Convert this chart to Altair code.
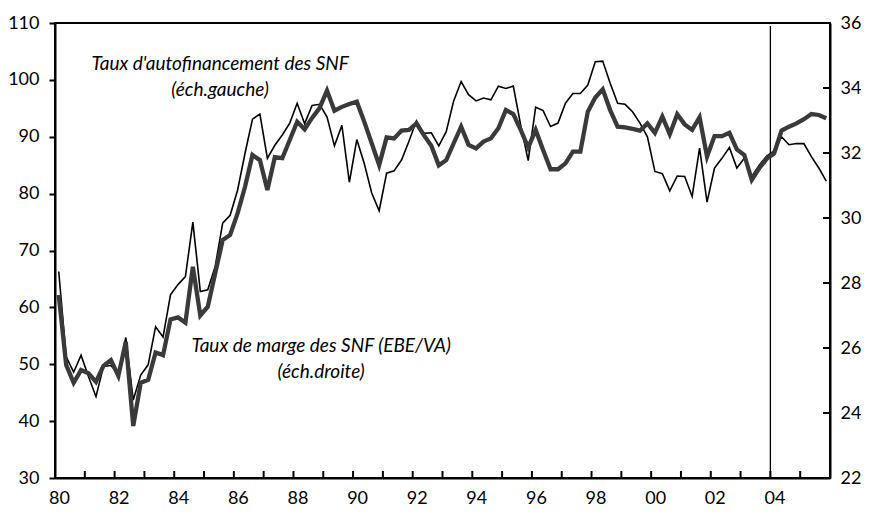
import altair as alt
import pandas as pd

# Quarterly data, 1980Q1 .. 2005Q4
autofin = [
    66.3, 51.3, 48.6, 51.6, 47.8, 44.3, 49.6, 49.8, 48.3, 54.7, 43.7, 48.1, 49.9, 56.6, 54.8, 62.2,
    64.0, 65.4, 75.0, 62.8, 63.1, 67.2, 74.8, 76.2, 80.6, 87.1, 93.1, 94.0, 86.2, 88.5, 90.3, 92.4,
    95.9, 92.3, 95.5, 95.7, 93.5, 88.4, 92.0, 82.0, 89.5, 85.3, 80.1, 77.0, 83.6, 84.0, 85.9, 89.2,
    92.8, 90.6, 90.7, 88.4, 90.9, 96.3, 99.7, 97.4, 96.3, 96.8, 96.5, 98.9, 98.5, 98.9, 92.0, 85.8,
    95.2, 94.6, 91.8, 92.4, 95.9, 97.6, 97.6, 99.1, 103.2, 103.3, 99.4, 95.9, 95.7, 94.4, 92.4, 90.0,
    83.9, 83.5, 80.5, 83.1, 83.0, 79.5, 88.0, 78.5, 84.5, 86.2, 88.1, 84.5, 86.2, 83.0, 85.0, 86.6,
    87.5, 90.0, 88.6, 88.8, 88.8, 86.5, 84.5, 82.2,
]
marge = [
    27.63, 25.48, 24.93, 25.32, 25.22, 24.96, 25.45, 25.63, 25.14, 26.19, 23.60, 24.93, 25.02, 25.86, 25.78, 26.88,
    26.94, 26.78, 28.50, 27.00, 27.27, 28.30, 29.32, 29.48, 30.14, 30.96, 31.94, 31.78, 30.86, 31.87, 31.84, 32.40,
    32.96, 32.73, 33.08, 33.38, 33.92, 33.30, 33.42, 33.51, 33.58, 32.96, 32.30, 31.63, 32.48, 32.45, 32.69, 32.71,
    32.91, 32.55, 32.22, 31.62, 31.78, 32.30, 32.81, 32.25, 32.14, 32.35, 32.45, 32.76, 33.32, 33.20, 32.71, 32.17,
    32.71, 32.09, 31.50, 31.50, 31.68, 32.04, 32.04, 33.27, 33.71, 33.96, 33.32, 32.81, 32.79, 32.74, 32.69, 32.91,
    32.62, 33.12, 32.58, 33.19, 32.88, 32.71, 33.10, 31.89, 32.52, 32.52, 32.62, 32.11, 31.94, 31.17, 31.53, 31.82,
    31.99, 32.69, 32.81, 32.91, 33.04, 33.20, 33.17, 33.07,
]
n_quarters = len(autofin)
t = [1980 + (i + 0.5) / 4 for i in range(n_quarters)]

years = list(range(1980, 2007))
inner_year_ticks = list(range(1981, 2006))
left_ticks = list(range(30, 111, 10))
right_ticks = list(range(22, 37, 2))
right_inner_ticks = list(range(24, 36, 2))
break_year = [2004]

ann_label = ["Taux d'autofinancement des SNF", "(éch.gauche)",
             "Taux de marge des SNF (EBE/VA)", "(éch.droite)"]
ann_t = [1985.54, 1985.54, 1988.93, 1988.93]
ann_y = [102.8, 98.2, 53.2, 48.6]

df = pd.DataFrame({"t": t, "autofin": autofin, "marge": marge})
ann_df = pd.DataFrame({"t": ann_t, "autofin": ann_y, "label": ann_label})
vl_df = pd.DataFrame({"t": break_year})
xt_df = pd.DataFrame({"t": inner_year_ticks})
rt_df = pd.DataFrame({"marge": right_inner_ticks})

FONT = "Lato"
W, H = 775, 455
xscale = alt.Scale(domain=[1980, 2006], nice=False, zero=False)
lscale = alt.Scale(domain=[30, 110], nice=False, zero=False)
rscale = alt.Scale(domain=[22, 36], nice=False, zero=False)

x_axis = alt.Axis(
    values=years,
    labelExpr="datum.value % 2 == 0 && datum.value < 2006 ? substring(toString(datum.value), 2, 4) : ''",
    ticks=False,
    tickSize=0,
    labelPadding=11,
    labelOffset=4,
    labelFlush=False,
    labelOverlap=False,
)

thin = alt.Chart(df).mark_line(color="black", strokeWidth=1.6).encode(
    x=alt.X("t:Q", scale=xscale, axis=x_axis, title=None),
    y=alt.Y("autofin:Q", scale=lscale, title=None,
            axis=alt.Axis(values=left_ticks, orient="left", tickSize=6, labelPadding=10)),
)

xticks = alt.Chart(xt_df).mark_rule(color="black", strokeWidth=2).encode(
    x=alt.X("t:Q", scale=xscale, title=None),
    y=alt.value(H - 7),
    y2=alt.value(H),
)

vline = alt.Chart(vl_df).mark_rule(color="black", strokeWidth=1.3).encode(
    x=alt.X("t:Q", scale=xscale, title=None),
    y=alt.value(3),
    y2=alt.value(H),
)

texts = alt.Chart(ann_df).mark_text(
    font=FONT, fontStyle="italic", fontSize=19, align="center", baseline="middle", color="black"
).encode(
    x=alt.X("t:Q", scale=xscale, title=None),
    y=alt.Y("autofin:Q", scale=lscale, title=None),
    text="label:N",
)

gray = alt.Chart(df).mark_line(color="#3a3a3a", strokeWidth=4.3).encode(
    x=alt.X("t:Q", scale=xscale, title=None),
    y=alt.Y("marge:Q", scale=rscale, title=None,
            axis=alt.Axis(values=right_ticks, orient="right", ticks=False, tickSize=0, labelPadding=10)),
)

rticks = alt.Chart(rt_df).mark_rule(color="black", strokeWidth=2).encode(
    y=alt.Y("marge:Q", scale=rscale, title=None),
    x=alt.value(W - 7),
    x2=alt.value(W),
)

chart = (
    alt.layer(alt.layer(thin, xticks, vline, texts), alt.layer(rticks, gray))
    .resolve_scale(y="independent")
    .properties(
        width=W,
        height=H,
        padding={"left": 47, "top": 15, "right": 31, "bottom": 30},
        autosize=alt.AutoSizeParams(type="none"),
    )
    .configure_view(stroke="black", strokeWidth=2)
    .configure_axis(
        labelFont=FONT, labelFontSize=18, labelColor="black",
        tickColor="black", tickWidth=2, domainColor="black", domainWidth=2, grid=False,
    )
)

chart.save("out.html", embed_options={"renderer": "svg", "actions": False})
